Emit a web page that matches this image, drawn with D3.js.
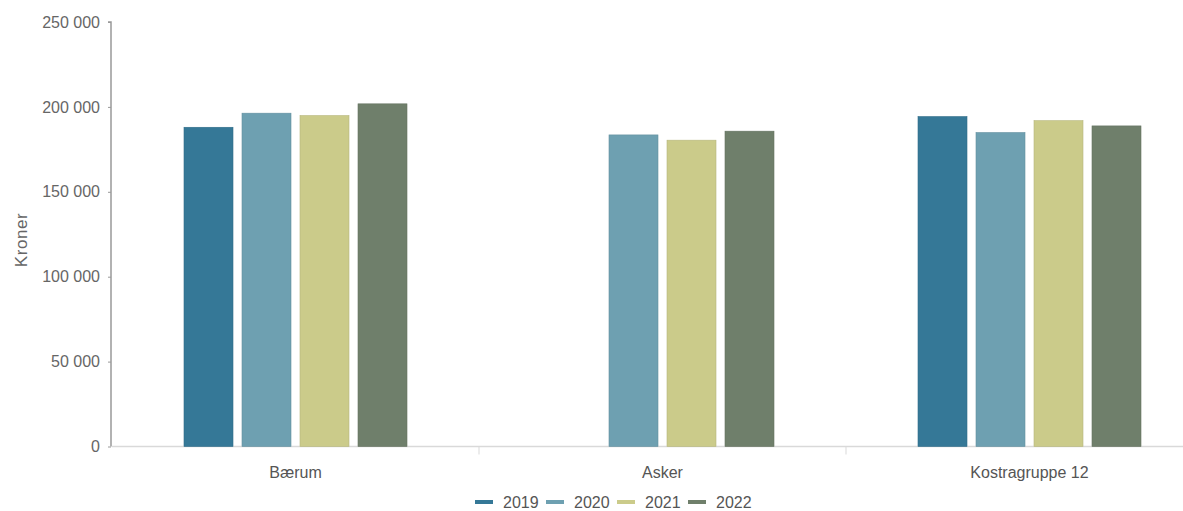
<!DOCTYPE html>
<html><head><meta charset="utf-8">
<script src="https://cdn.jsdelivr.net/npm/d3@7"></script>
<style>
body{margin:0;background:#fff;}
svg{display:block;font-family:"Liberation Sans",Arial,sans-serif;}
</style></head>
<body>
<svg id="c" width="1183" height="511"></svg>
<script>
const categories = ["Bærum", "Asker", "Kostragruppe 12"];
const years = ["2019", "2020", "2021", "2022"];
const values2019 = [188000, null, 194300];
const values2020 = [196300, 183500, 184900];
const values2021 = [194900, 180400, 191900];
const values2022 = [201800, 185700, 188800];
const yTicks = [0, 50000, 100000, 150000, 200000, 250000];
const colors = ["#357897", "#6ea0b1", "#cbcb8a", "#6f7f6b"];

const series = [values2019, values2020, values2021, values2022];
const svg = d3.select("#c");
const x0 = d3.scaleBand().domain(categories).range([112, 1213]).paddingInner(0).paddingOuter(0);
const y = d3.scaleLinear().domain([0, 250000]).range([446.5, 22]);
const inner = 223;
const x1 = d3.scaleBand().domain(years).range([0, inner]).paddingInner(9/58).paddingOuter(0);

const fmt = v => d3.format(",")(v).replace(/,/g, " ");

// baseline
svg.append("line").attr("x1", 112).attr("x2", 1213).attr("y1", y(0)).attr("y2", y(0))
  .attr("stroke", "#d9d9d9").attr("stroke-width", 1.5);
// category separators
[1, 2].forEach(i => {
  const xx = x0(categories[i]);
  svg.append("line").attr("x1", xx).attr("x2", xx).attr("y1", y(0)).attr("y2", y(0) + 8)
    .attr("stroke", "#d9d9d9").attr("stroke-width", 1);
});

// bars
categories.forEach((c, ci) => {
  const gx = x0(c) + (x0.bandwidth() - inner) / 2;
  years.forEach((yr, si) => {
    const v = series[si][ci];
    if (v == null) return;
    svg.append("rect")
      .attr("x", gx + x1(yr)).attr("width", x1.bandwidth())
      .attr("y", y(v)).attr("height", y(0) - y(v))
      .attr("fill", colors[si])
      .attr("stroke", d3.color(colors[si]).darker(0.3)).attr("stroke-width", 0.6);
  });
});

// y axis
const yAxis = d3.axisLeft(y).tickValues(yTicks).tickFormat(fmt).tickSize(3).tickPadding(8);
const ga = svg.append("g").attr("transform", "translate(111,0)").call(yAxis);
ga.select(".domain").attr("stroke", "#999").attr("stroke-width", 1.5).attr("d", `M-3,${y(250000)}H0V${y(0)}`);
ga.selectAll(".tick line").attr("stroke", "#999");
ga.selectAll(".tick text").attr("fill", "#666").style("font-size", "16px").style("font-family", "Liberation Sans, Arial, sans-serif");

// category labels
categories.forEach(c => {
  svg.append("text").attr("x", x0(c) + x0.bandwidth() / 2).attr("y", 478)
    .attr("text-anchor", "middle").attr("fill", "#555").style("font-size", "16px").text(c);
});

// y title
svg.append("text").attr("transform", "translate(27,240) rotate(-90)")
  .attr("text-anchor", "middle").attr("fill", "#666").style("font-size", "17px")
  .style("letter-spacing", "0.6px").text("Kroner");

// legend
const lx = [475, 546, 617, 688];
years.forEach((yr, i) => {
  svg.append("line").attr("x1", lx[i]).attr("x2", lx[i] + 18).attr("y1", 502).attr("y2", 502)
    .attr("stroke", colors[i]).attr("stroke-width", 4);
  svg.append("text").attr("x", lx[i] + 28).attr("y", 508).attr("fill", "#555")
    .style("font-size", "16px").text(yr);
});
</script>
</body></html>
